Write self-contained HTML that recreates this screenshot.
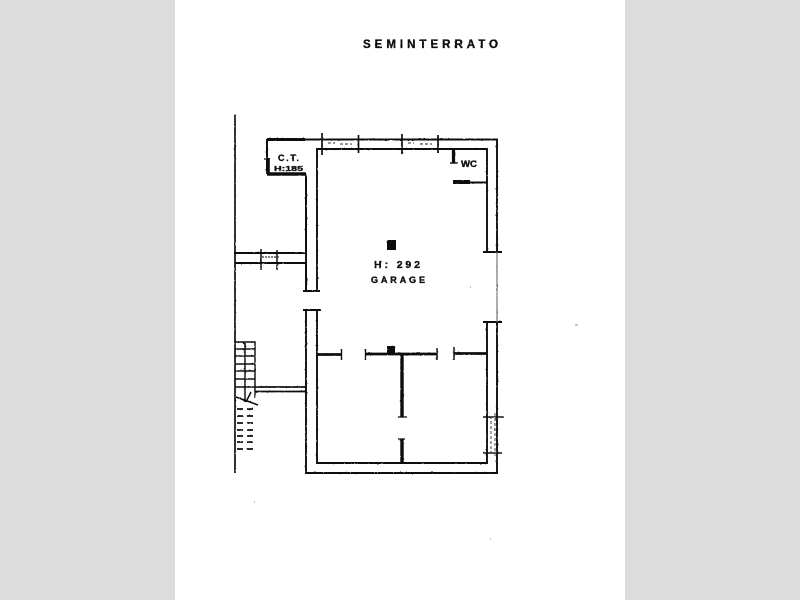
<!DOCTYPE html>
<html><head><meta charset="utf-8"><style>
html,body{margin:0;padding:0;background:#dcdcdc;width:800px;height:600px;overflow:hidden}
svg{display:block}
text{font-family:"Liberation Sans",sans-serif;font-weight:bold;fill:#111;stroke:#111;stroke-width:.35}
</style></head><body>
<svg width="800" height="600" viewBox="0 0 800 600" xmlns="http://www.w3.org/2000/svg">
<defs><filter id="b" x="-5%" y="-5%" width="110%" height="110%">
<feTurbulence type="fractalNoise" baseFrequency="0.35" numOctaves="2" seed="4" result="n"/>
<feDisplacementMap in="SourceGraphic" in2="n" scale="1.1" xChannelSelector="R" yChannelSelector="G"/>
<feGaussianBlur stdDeviation="0.35"/></filter></defs>
<rect width="800" height="600" fill="#dcdcdc"/>
<rect x="175" y="0" width="450" height="600" fill="#fff"/>
<g filter="url(#b)" stroke="#111" fill="none" stroke-width="1.9">
<!-- property line -->
<path d="M235 115V473" stroke-width="1.700"/>
<!-- top wall -->
<path d="M267 139.500H497V252"/>
<path d="M317 291V149H453"/>
<path d="M453 149H487V252"/>
<path d="M306 174V291"/>
<path d="M303 291H320M483 252H502"/>
<!-- window top ticks -->
<path d="M322 133V155M358.500 135V153M402 134V154M438 135V153" stroke-width="1.700"/>
<path d="M328 143H335M340 144H352M408 143H414M420 144H432" stroke-width="1.200" stroke-dasharray="3 2" stroke="#555"/>
<!-- CT room -->
<path d="M267 139.500H305" stroke-width="3"/>
<path d="M267 139V174" stroke-width="2"/>
<path d="M267 174H306M268 158V174" stroke-width="3.600"/>
<path d="M264 159H270" stroke-width="1.200"/>
<!-- corridor walls -->
<path d="M234 253H306V174"/>
<path d="M235 263H306V291"/>
<path d="M261 249V270M277 250V270" stroke-width="1.500"/>
<path d="M262 257H280" stroke-width="1.300" stroke-dasharray="2 1" stroke="#333"/>
<!-- lower garage walls -->
<path d="M303 310H321"/>
<path d="M306 310V473H497V322"/>
<path d="M317 310V463H487V322"/>
<path d="M483 322H502"/>
<path d="M497 252V322" stroke-width="1.100" stroke="#666"/>
<!-- right window -->
<path d="M483 417H504M483 453H502" stroke-width="1.500"/>
<path d="M491 416V453M495 413V456" stroke-width="1.100" stroke-dasharray="3 2" stroke="#555"/>
<!-- internal walls -->
<path d="M317 354.500H341M365 354H437M454 353.500H487" stroke-width="2.800"/>
<path d="M341.500 349V360M365.500 349V360M437 348V360M454 347V360" stroke-width="1.400"/>
<path d="M402 354V417M402 439V463" stroke-width="3.400"/>
<path d="M398 417H407M398 439H405" stroke-width="1.200"/>
<!-- wc -->
<path d="M453.500 149V163" stroke-width="3.200"/>
<path d="M450 163H458" stroke-width="1.400"/>
<path d="M453 182H470" stroke-width="4"/>
<path d="M470 182.500H487" stroke-width="2"/>
<!-- stair -->
<path d="M235 342H255V398M245 343V402" stroke-width="1.400"/>
<path d="M235 349H255M235 356H255M235 364H255M235 371H255M235 379H255M235 387H255" stroke-width="1.500"/>
<path d="M236 397L258 405M246 402L251 392M243 342L246 347" stroke-width="1.500"/>
<path d="M255 387H306M255 391.500H306" stroke-width="1.800"/>
<path d="M237 409H256M237 416H256M237 423H256M237 430H256M237 436H256M237 442H256M237 449H256" stroke-width="1.800" stroke-dasharray="6 4"/>
<!-- specks -->
<path d="M470 287h1M254 502h1M490 539h1M575 325h3" stroke-width="1" stroke="#888"/>
</g>
<g fill="#111" filter="url(#b)">
<rect x="387" y="240" width="9" height="10"/>
<rect x="387" y="346" width="8" height="7"/>
</g>
<g filter="url(#b)">
<text x="363" y="48" font-size="11.500" textLength="135" lengthAdjust="spacing">SEMINTERRATO</text>
<text x="278" y="161" font-size="9" textLength="21" lengthAdjust="spacing">C.T.</text>
<text x="274" y="171" font-size="7.500" textLength="29" lengthAdjust="spacingAndGlyphs">H:185</text>
<text x="461" y="167" font-size="9" textLength="16" lengthAdjust="spacingAndGlyphs">WC</text>
<text x="374" y="268" font-size="10.500" textLength="46" lengthAdjust="spacing">H: 292</text>
<text x="371" y="283" font-size="9" textLength="54" lengthAdjust="spacing">GARAGE</text>
</g>
</svg>
</body></html>
